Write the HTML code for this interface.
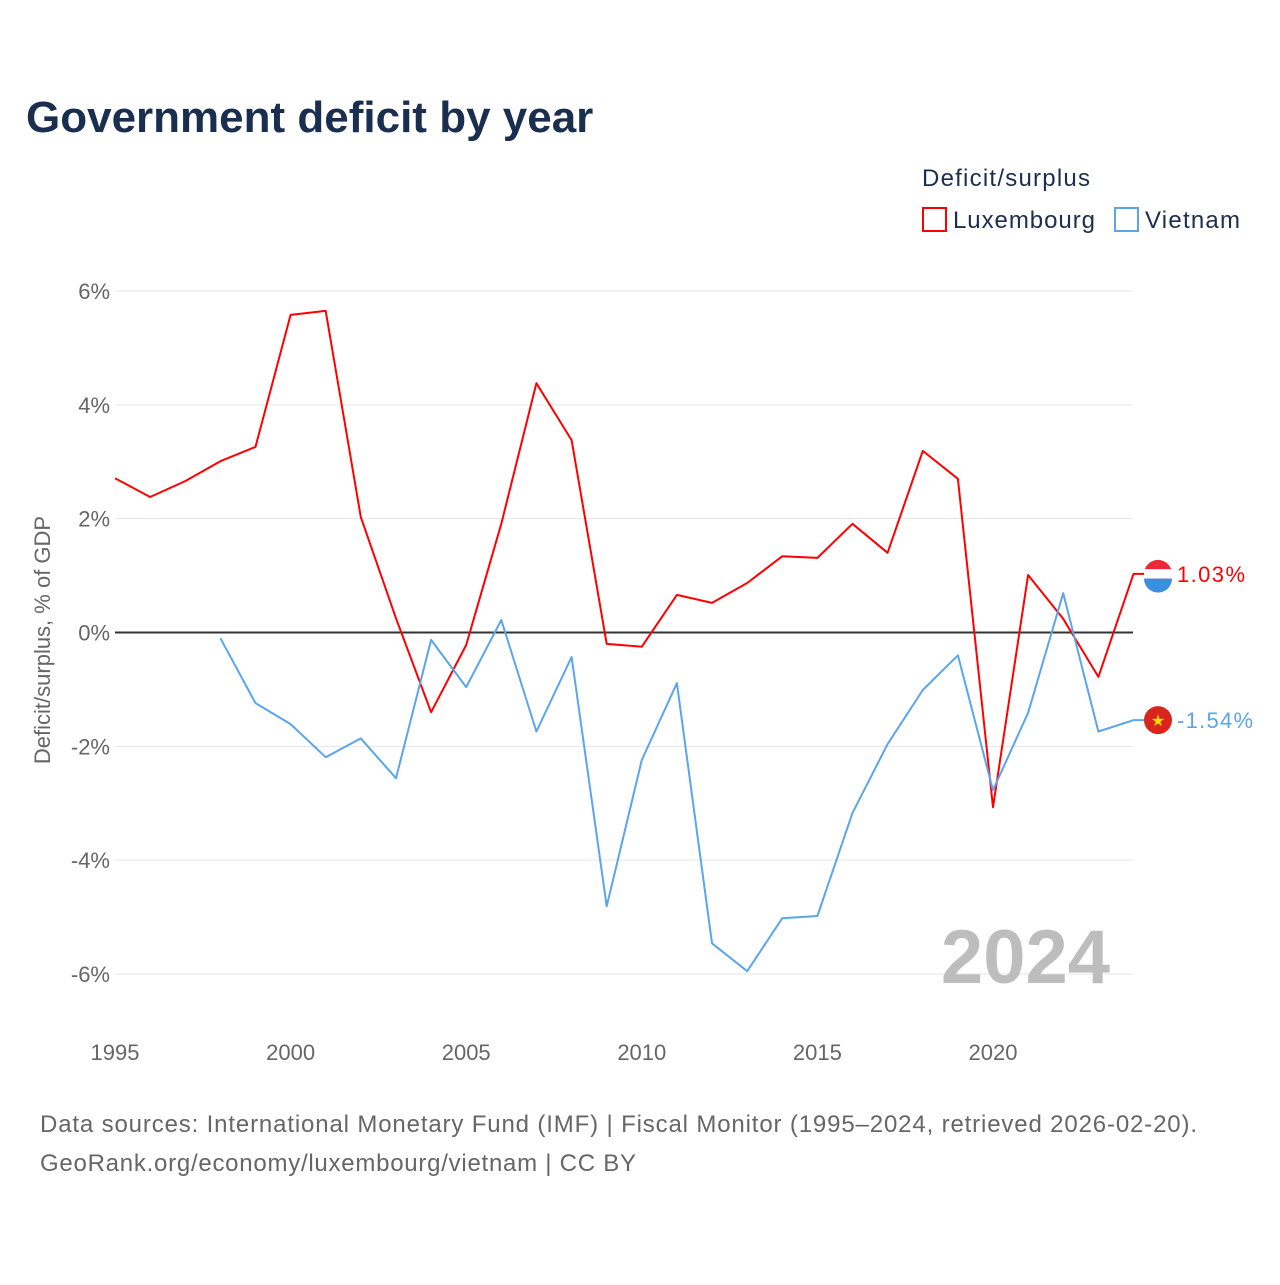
<!DOCTYPE html>
<html><head><meta charset="utf-8"><style>
body{margin:0;background:#fff;font-family:"Liberation Sans",sans-serif}
</style></head><body>
<svg id="c" width="1280" height="1280" xmlns="http://www.w3.org/2000/svg" style="font-family:'Liberation Sans',sans-serif">
<text x="26" y="132" font-size="44" font-weight="bold" fill="#1a2e4f">Government deficit by year</text>
<text x="922" y="186" font-size="24" fill="#1a2e4f" textLength="168">Deficit/surplus</text>
<g><rect x="923" y="208" width="23" height="23" fill="none" stroke="#ff0000" stroke-width="2"/><text x="953" y="228" font-size="24" fill="#1a2e4f" textLength="142">Luxembourg</text></g>
<g><rect x="1115" y="208" width="23" height="23" fill="none" stroke="#5aa5eb" stroke-width="2"/><text x="1145" y="228" font-size="24" fill="#1a2e4f" textLength="95">Vietnam</text></g>
<text transform="translate(50,640) rotate(-90)" text-anchor="middle" font-size="22" fill="#666">Deficit/surplus, % of GDP</text>
<g id="grid"></g><g id="lines"></g>
<text x="1110" y="983" text-anchor="end" font-size="76" font-weight="bold" fill="#bdbdbd">2024</text>
<text x="40" y="1132" font-size="24" fill="#666" textLength="1157">Data sources: International Monetary Fund (IMF) | Fiscal Monitor (1995–2024, retrieved 2026-02-20).</text>
<text x="40" y="1171" font-size="24" fill="#666" textLength="596">GeoRank.org/economy/luxembourg/vietnam | CC BY</text>
</svg>
<script>
const years=[1995,1996,1997,1998,1999,2000,2001,2002,2003,2004,2005,2006,2007,2008,2009,2010,2011,2012,2013,2014,2015,2016,2017,2018,2019,2020,2021,2022,2023,2024];
const luxembourg=[2.71,2.38,2.66,3.01,3.26,5.58,5.65,2.03,0.25,-1.40,-0.22,1.91,4.38,3.38,-0.20,-0.25,0.66,0.52,0.87,1.34,1.31,1.91,1.40,3.19,2.70,-3.07,1.01,0.24,-0.78,1.03];
const vietnam=[null,null,null,-0.10,-1.24,-1.61,-2.19,-1.86,-2.56,-0.13,-0.96,0.22,-1.74,-0.43,-4.81,-2.24,-0.89,-5.46,-5.95,-5.02,-4.98,-3.17,-1.96,-1.01,-0.40,-2.77,-1.41,0.69,-1.74,-1.54];
const yTicks=[6,4,2,0,-2,-4,-6];
const xTicks=[1995,2000,2005,2010,2015,2020];
const X=y=>115+(y-1995)*35.12, Y=v=>632.5-v*56.92;
const NS="http://www.w3.org/2000/svg";
const grid=document.getElementById('grid'), lines=document.getElementById('lines');
function mk(t,a,p){const e=document.createElementNS(NS,t);for(const k in a)e.setAttribute(k,a[k]);p.appendChild(e);return e;}
yTicks.forEach(v=>{
 const l=mk('line',{x1:115,x2:1133,y1:Y(v),y2:Y(v),stroke:v===0?'#333':'#e6e6e6','stroke-width':v===0?2:1},grid);
 
 
 const t=mk('text',{x:110,y:Y(v)+8,'text-anchor':'end','font-size':22,fill:'#666'},grid);
 t.textContent=v+'%';
 
 
});
xTicks.forEach(v=>{
 const t=mk('text',{x:X(v),y:1060,'text-anchor':'middle','font-size':22,fill:'#666'},grid);
 t.textContent=v;
 
 
});
function series(vals,col,name){
 const pts=[];vals.forEach((v,i)=>{if(v!==null)pts.push(X(years[i]).toFixed(1)+','+Y(v).toFixed(1));});
 const p=mk('polyline',{points:pts.join(' '),fill:'none',stroke:col,'stroke-width':2,'stroke-linejoin':'round'},lines);
 
 
 const last=vals[vals.length-1],cy=Y(last);
 mk('line',{x1:1133,x2:1145,y1:cy,y2:cy,stroke:col,'stroke-width':2},lines);
 const c=mk('circle',{cx:1158,cy:cy,r:14,fill:name==='vietnam'?'#da251d':'#ed2939'},lines);
 
 
 if(name==='luxembourg'){mk('rect',{x:1144,y:cy-4.7,width:28,height:9.4,fill:'#fff'},lines);
  mk('path',{d:`M1144,${cy+4.7} h28 a14,14 0 0 1 -28,0z`,fill:'#3b8fe0'},lines);}
 else{const s=mk('text',{x:1158,y:cy+6,'text-anchor':'middle','font-size':16,fill:'#ffde00'},lines);s.textContent='★';}
 const t=mk('text',{x:1177,y:cy+8,'font-size':22,fill:col,textLength:last<0?76:68},lines);
 t.textContent=last.toFixed(2)+'%';
 
 
}
series(luxembourg,'#ff0000','luxembourg');
series(vietnam,'#5aa5eb','vietnam');
</script>
</body></html>
